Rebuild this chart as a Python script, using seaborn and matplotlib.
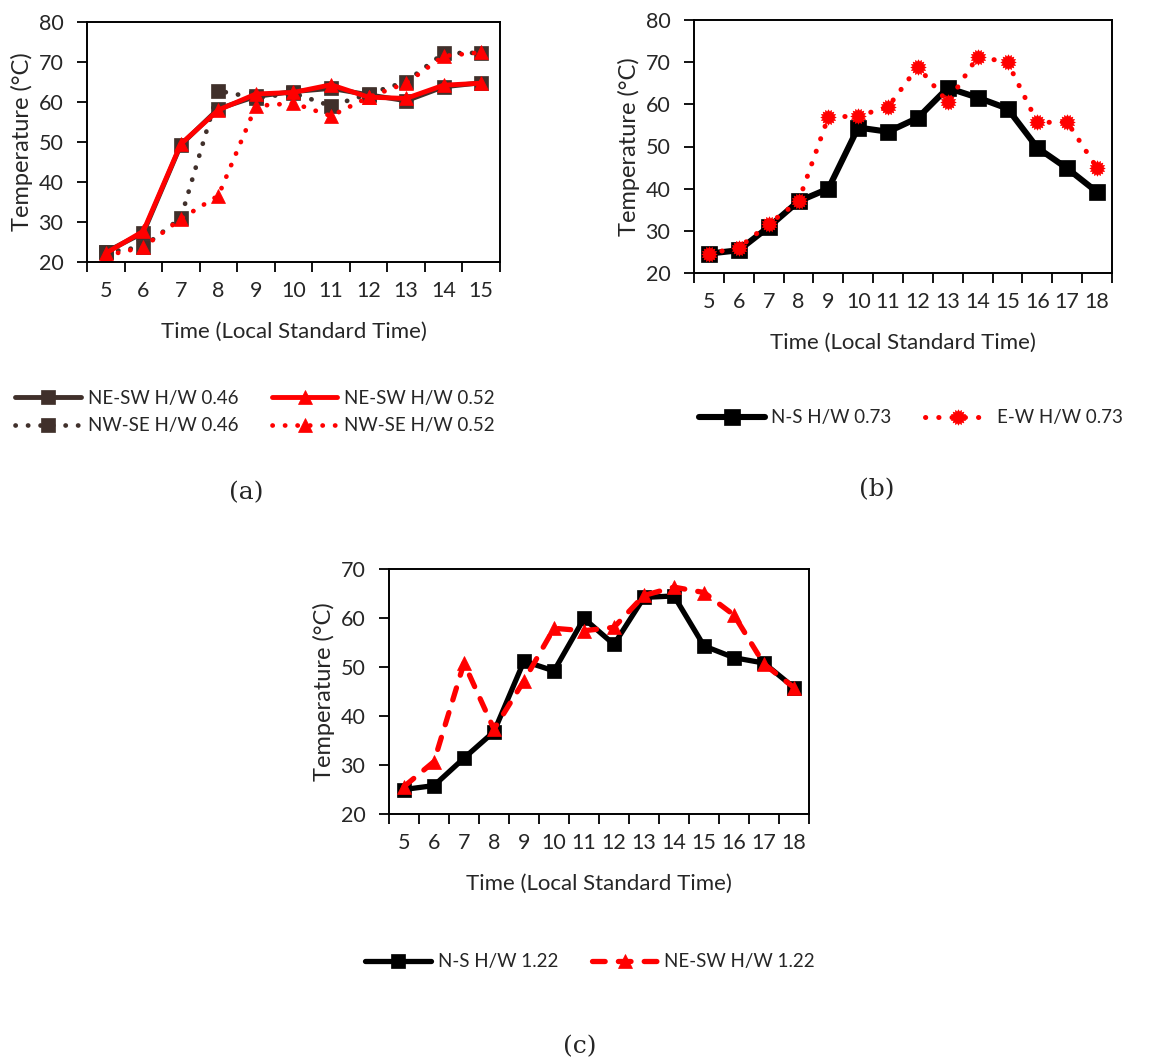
import numpy as np
import pandas as pd
import matplotlib
matplotlib.use("Agg")
import matplotlib.pyplot as plt
from matplotlib.path import Path
from matplotlib.ticker import FixedLocator
import seaborn as sns

# ---------------- data ----------------
hours_a = [5, 6, 7, 8, 9, 10, 11, 12, 13, 14, 15]
ne_sw_046 = [22.5, 27.3, 49.3, 58.3, 61.4, 62.6, 63.4, 61.8, 60.3, 63.8, 64.8]
ne_sw_052 = [22.2, 27.7, 49.5, 58.0, 62.0, 62.4, 64.3, 61.2, 60.9, 64.2, 64.7]
nw_se_046 = [22.4, 23.8, 31.0, 62.8, 61.0, 62.2, 59.0, 62.0, 65.1, 72.2, 72.3]
nw_se_052 = [21.6, 23.7, 30.8, 36.6, 59.0, 59.7, 56.5, 61.2, 64.7, 71.5, 72.4]

hours_b = [5, 6, 7, 8, 9, 10, 11, 12, 13, 14, 15, 16, 17, 18]
ns_073 = [24.6, 25.4, 30.9, 37.0, 40.0, 54.5, 53.5, 56.8, 63.9, 61.6, 59.0, 49.7, 44.8, 39.2]
ew_073 = [24.6, 26.0, 31.6, 37.0, 57.0, 57.2, 59.4, 68.9, 60.5, 71.3, 70.0, 55.7, 55.8, 44.9]

hours_c = [5, 6, 7, 8, 9, 10, 11, 12, 13, 14, 15, 16, 17, 18]
ns_122 = [25.0, 25.8, 31.4, 36.8, 51.2, 49.2, 59.9, 54.6, 64.2, 64.5, 54.3, 51.9, 50.8, 45.8]
ne_sw_122 = [25.6, 30.7, 50.8, 37.3, 47.2, 57.9, 57.4, 58.1, 64.6, 66.3, 65.2, 60.6, 50.6, 45.8]

xlabel = "Time (Local Standard Time)"
ylabel = "Temperature (°C)"

# ---------------- style ----------------
sns.set_style("ticks")
plt.rcParams["font.family"] = ["Lato", "DejaVu Sans"]

W, H = 1156, 1061
fig = plt.figure(figsize=(W / 100, H / 100), dpi=100)

BROWN = "#40302b"
RED = "#ff0000"
BLACK = "#000000"
FS_TICK = 15.5
FS_XLAB = 16
FS_YLAB = 17
FS_LEG = 13.5

star = Path.unit_regular_star(16, 0.72)


def rect(l, t, r, b):
    return [l / W, 1 - b / H, (r - l) / W, (b - t) / H]


def style_axes(ax, hours, ylim, yticks, wpx, hpx):
    ax.set_xlim(hours[0] - 0.5, hours[-1] + 0.5)
    ax.set_ylim(*ylim)
    ax.set_yticks(yticks)
    ax.xaxis.set_major_locator(FixedLocator(hours))
    ax.xaxis.set_minor_locator(FixedLocator([h - 0.5 for h in hours] + [hours[-1] + 0.5]))
    ax.set_xticklabels([str(h) for h in hours])
    ax.tick_params(axis="x", which="major", length=0, pad=14, labelsize=FS_TICK)
    ax.tick_params(axis="x", which="minor", length=7, width=1.3, direction="out", color="black")
    ax.tick_params(axis="y", which="major", length=7, width=1.3, direction="out", pad=10,
                   labelsize=FS_TICK, color="black")
    for s in ax.spines.values():
        s.set_visible(True)
        s.set_linewidth(1.4)
        s.set_color("black")
    ax.set_xlabel(xlabel, fontsize=FS_XLAB)
    ax.set_ylabel(ylabel, fontsize=FS_YLAB)
    ax.xaxis.label.set_va("center")
    ax.yaxis.label.set_va("center")
    ax.xaxis.set_label_coords(0.5, -70 / hpx)
    ax.yaxis.set_label_coords(-65 / wpx, 0.5)
    ax.grid(False)
    if ax.get_legend() is not None:
        ax.get_legend().remove()


dotted = (0, (0.05, 2.6))

# ---------------- panel (a) ----------------
axa = fig.add_axes(rect(87, 22, 500, 262))
sns.lineplot(x=hours_a, y=ne_sw_046, ax=axa, color=BROWN, linewidth=3.5, marker="s",
             markersize=9.5, markeredgecolor=BROWN, markeredgewidth=0.5,
             solid_capstyle="round", label="NE-SW H/W 0.46")
sns.lineplot(x=hours_a, y=nw_se_046, ax=axa, color=BROWN, linewidth=3.4, linestyle=dotted,
             dash_capstyle="round", marker="s", markersize=9.5, markeredgecolor=BROWN,
             markeredgewidth=0.5, label="NW-SE H/W 0.46")
sns.lineplot(x=hours_a, y=ne_sw_052, ax=axa, color=RED, linewidth=3.5, marker="^",
             markersize=10.5, markeredgecolor=RED, markeredgewidth=0.5,
             solid_capstyle="round", label="NE-SW H/W 0.52")
sns.lineplot(x=hours_a, y=nw_se_052, ax=axa, color=RED, linewidth=3.4, linestyle=dotted,
             dash_capstyle="round", marker="^", markersize=10.5, markeredgecolor=RED,
             markeredgewidth=0.5, label="NW-SE H/W 0.52")
ha, la = axa.get_legend_handles_labels()
style_axes(axa, hours_a, (20, 80), range(20, 81, 10), 413, 240)

# ---------------- panel (b) ----------------
axb = fig.add_axes(rect(694, 20, 1112, 273))
sns.lineplot(x=hours_b, y=ns_073, ax=axb, color=BLACK, linewidth=4.4, marker="s",
             markersize=11, markeredgecolor=BLACK, markeredgewidth=0.5,
             solid_capstyle="round", label="N-S H/W 0.73")
sns.lineplot(x=hours_b, y=ew_073, ax=axb, color=RED, linewidth=3.6, linestyle=dotted,
             dash_capstyle="round", marker=star, markersize=11, markeredgecolor=RED,
             markeredgewidth=0.5, label="E-W H/W 0.73")
hb, lb = axb.get_legend_handles_labels()
style_axes(axb, hours_b, (20, 80), range(20, 81, 10), 418, 253)

# ---------------- panel (c) ----------------
axc = fig.add_axes(rect(389, 569, 809, 814))
sns.lineplot(x=hours_c, y=ns_122, ax=axc, color=BLACK, linewidth=3.8, marker="s",
             markersize=10, markeredgecolor=BLACK, markeredgewidth=0.5,
             solid_capstyle="round", label="N-S H/W 1.22")
sns.lineplot(x=hours_c, y=ne_sw_122, ax=axc, color=RED, linewidth=3.8, linestyle=(0, (2.4, 2.5)),
             dash_capstyle="round", marker="^", markersize=10.5, markeredgecolor=RED,
             markeredgewidth=0.5, label="NE-SW H/W 1.22")
hc, lc = axc.get_legend_handles_labels()
style_axes(axc, hours_c, (20, 70), range(20, 71, 10), 420, 245)

# ---------------- legends ----------------
common = dict(loc="center", frameon=False, fontsize=FS_LEG, handlelength=3.5,
              handletextpad=0.35, numpoints=1)
fig.legend(ha, la, bbox_to_anchor=(255 / W, 1 - 412 / H), ncol=2, columnspacing=1.8,
           labelspacing=0.55, **common)
fig.legend(hb, lb, bbox_to_anchor=(911 / W, 1 - 418 / H), ncol=2, columnspacing=1.8, **common)
fig.legend(hc, lc, bbox_to_anchor=(590 / W, 1 - 962 / H), ncol=2, columnspacing=1.8, **common)

# ---------------- panel letters ----------------
serif = dict(ha="center", va="center", fontsize=18, family=["DejaVu Serif"])
fig.text(246 / W, 1 - 493 / H, "(a)", **serif)
fig.text(877 / W, 1 - 490 / H, "(b)", **serif)
fig.text(580 / W, 1 - 1047 / H, "(c)", **serif)

fig.savefig("out.png", dpi=100)
